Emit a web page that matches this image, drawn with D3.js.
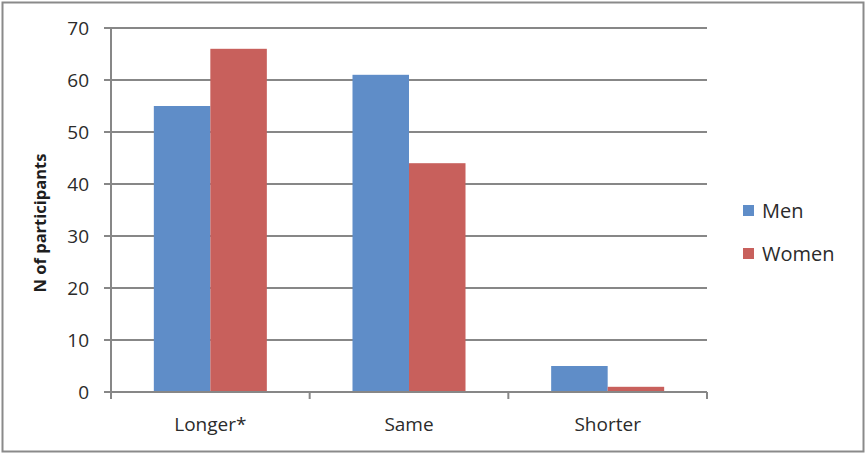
<!DOCTYPE html>
<html><head><meta charset="utf-8">
<script src="https://cdn.jsdelivr.net/npm/d3@7"></script>
<style>body{margin:0;background:#fff}svg{display:block}</style>
</head><body>
<script>
const categories = ["Longer*", "Same", "Shorter"];
const seriesNames = ["Men", "Women"];
const menValues = [55, 61, 5];
const womenValues = [66, 44, 1];
const yTicks = [0, 10, 20, 30, 40, 50, 60, 70];
const colors = ["#5f8dc8", "#c8605c"];

(function () {
const W = 866, H = 454;
const svg = d3.select("body").append("svg").attr("width", W).attr("height", H);
svg.append("rect").attr("x", 2.5).attr("y", 2.5).attr("width", W - 5).attr("height", H - 5)
  .attr("fill", "#fff").attr("stroke", "#8a8a8a").attr("stroke-width", 2);

const pLeft = 111, pRight = 707, pTop = 28, pBottom = 392;
const font = "'Open Sans', 'Noto Sans', sans-serif";
const x0 = d3.scaleBand().domain(categories).range([pLeft, pRight]).paddingInner(0).paddingOuter(0);
const x1 = d3.scaleBand().domain(seriesNames).range([0, x0.bandwidth()]).paddingInner(0).paddingOuter(0.758);
const y = d3.scaleLinear().domain([0, 70]).range([pBottom, pTop]);

// gridlines
svg.append("g").selectAll("line").data(yTicks.filter(d => d > 0)).join("line")
  .attr("x1", pLeft - 7).attr("x2", pRight).attr("y1", d => y(d)).attr("y2", d => y(d))
  .attr("stroke", "#878787").attr("stroke-width", 2);

const data = categories.map((c, i) => ({cat: c, vals: [menValues[i], womenValues[i]]}));
const g = svg.append("g");
data.forEach(d => {
  d.vals.forEach((v, j) => {
    g.append("rect").attr("x", x0(d.cat) + x1(seriesNames[j])).attr("width", x1.bandwidth())
      .attr("y", y(v)).attr("height", y(0) - y(v)).attr("fill", colors[j]);
  });
});

// axes lines
svg.append("line").attr("x1", pLeft).attr("x2", pLeft).attr("y1", pTop).attr("y2", pBottom + 1)
  .attr("stroke", "#878787").attr("stroke-width", 2);
svg.append("line").attr("x1", pLeft - 7).attr("x2", pRight).attr("y1", pBottom).attr("y2", pBottom)
  .attr("stroke", "#878787").attr("stroke-width", 2);
const catTicks = categories.map(c => x0(c)).concat([pRight]);
svg.append("g").selectAll("line").data(catTicks).join("line")
  .attr("x1", d => d).attr("x2", d => d).attr("y1", pBottom).attr("y2", pBottom + 7)
  .attr("stroke", "#878787").attr("stroke-width", 2);

// y tick labels
svg.append("g").selectAll("text").data(yTicks).join("text")
  .attr("x", 89).attr("y", d => y(d)).attr("dy", "0.36em").attr("text-anchor", "end")
  .attr("font-family", font).attr("font-size", 19).attr("fill", "#2b2b2b").text(d => d);

// x labels
svg.append("g").selectAll("text").data(categories).join("text")
  .attr("x", d => x0(d) + x0.bandwidth() / 2).attr("y", 431).attr("text-anchor", "middle")
  .attr("font-family", font).attr("font-size", 19).attr("fill", "#2b2b2b").text(d => d);

// y axis title
svg.append("text").attr("transform", `translate(46,${(pTop + pBottom) / 2 + 13}) rotate(-90)`)
  .attr("text-anchor", "middle").attr("font-family", font).attr("font-size", 16.5)
  .attr("font-weight", "bold").attr("fill", "#1e1e1e").text("N of participants");

// legend
const lg = svg.append("g");
seriesNames.forEach((s, i) => {
  const yy = 210.5 + i * 43;
  lg.append("rect").attr("x", 743).attr("y", yy - 5.5).attr("width", 11).attr("height", 11).attr("fill", colors[i]);
  lg.append("text").attr("x", 762).attr("y", yy).attr("dy", "0.36em")
    .attr("font-family", font).attr("font-size", 20).attr("fill", "#2b2b2b").text(s);
});
})();
</script>
</body></html>
